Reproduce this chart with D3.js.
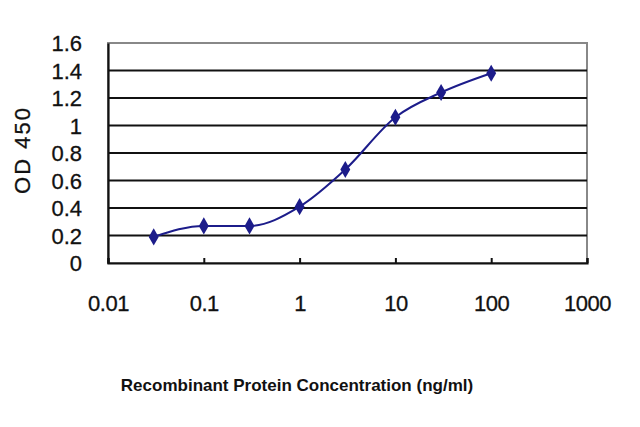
<!DOCTYPE html>
<html>
<head>
<meta charset="utf-8">
<script src="https://cdn.jsdelivr.net/npm/d3@7"></script>
<style>
	body { margin: 0; background: #fff; }
	text { font-family: "Liberation Sans", Arial, sans-serif; fill: #111; }
</style>
</head>
<body>
<svg></svg>
<script>
const concentrations = [0.03, 0.1, 0.3, 1, 3, 10, 30, 100];
const od450 = [0.19, 0.27, 0.27, 0.41, 0.68, 1.06, 1.24, 1.38];
const xTicks = [0.01, 0.1, 1, 10, 100, 1000];
const yTicks = [0, 0.2, 0.4, 0.6, 0.8, 1, 1.2, 1.4, 1.6];

const width = 640;
const height = 427;
const margin = {top: 43, right: 53, bottom: 164, left: 108};

const svg = d3.select('svg')
	.attr('width', width)
	.attr('height', height);

const x = d3.scaleLog()
	.domain([0.01, 1000])
	.range([margin.left, width - margin.right]);

const y = d3.scaleLinear()
	.domain([0, 1.6])
	.range([height - margin.bottom, margin.top]);

// frame: grey top and right
svg.append('rect')
	.attr('x', x(0.01))
	.attr('y', y(1.6))
	.attr('width', x(1000) - x(0.01))
	.attr('height', y(0) - y(1.6))
	.attr('fill', 'none')
	.attr('stroke', '#888')
	.attr('stroke-width', 2);

// gridlines
svg.append('g')
	.selectAll('line')
	.data(yTicks.filter(d => d > 0 && d < 1.6))
	.enter().append('line')
		.attr('x1', x(0.01))
		.attr('x2', x(1000))
		.attr('y1', d => y(d))
		.attr('y2', d => y(d))
		.attr('stroke', '#111')
		.attr('stroke-width', 2.2);

// y axis
const yAxis = svg.append('g')
	.attr('transform', `translate(${x(0.01)},0)`)
	.call(d3.axisLeft(y).tickValues(yTicks).tickSize(0).tickPadding(26)
		.tickFormat(d => String(+d.toFixed(1))));
yAxis.select('.domain').attr('stroke', '#111').attr('stroke-width', 2.2);
yAxis.selectAll('text')
	.attr('font-size', 22)
	.attr('fill', '#111')
	.attr('stroke', '#111')
	.attr('stroke-width', 0.3)
	.attr('dy', '0.35em');

// x axis
const xAxis = svg.append('g')
	.attr('transform', `translate(0,${y(0)})`)
	.call(d3.axisBottom(x).tickValues(xTicks).tickSize(-5).tickPadding(32)
		.tickFormat(d => String(d)));
xAxis.select('.domain').attr('stroke', '#111').attr('stroke-width', 2.2);
xAxis.selectAll('line').attr('stroke', '#111').attr('stroke-width', 2);
xAxis.selectAll('text')
	.attr('font-size', 22)
	.attr('fill', '#111')
	.attr('stroke', '#111')
	.attr('stroke-width', 0.3)
	.attr('letter-spacing', -0.5);

// series line
const points = concentrations.map((c, i) => ({c: c, v: od450[i]}));
const line = d3.line()
	.x(d => x(d.c))
	.y(d => y(d.v))
	.curve(d3.curveMonotoneX);

svg.append('path')
	.datum(points)
	.attr('d', line)
	.attr('fill', 'none')
	.attr('stroke', '#1c1c8a')
	.attr('stroke-width', 2);

svg.append('g')
	.selectAll('path')
	.data(points)
	.enter().append('path')
		.attr('d', d3.symbol().type(d3.symbolDiamond).size(85))
		.attr('transform', d => `translate(${x(d.c)},${y(d.v)})`)
		.attr('fill', '#1c1c8a');

// titles
svg.append('text')
	.attr('transform', `translate(30,${(y(0) + y(1.6)) / 2 - 3}) rotate(-90)`)
	.attr('text-anchor', 'middle')
	.attr('font-size', 22)
	.attr('letter-spacing', 2)
	.attr('stroke', '#111')
	.attr('stroke-width', 0.3)
	.text('OD 450');

svg.append('text')
	.attr('x', 297)
	.attr('y', 391)
	.attr('text-anchor', 'middle')
	.attr('font-size', 17)
	.attr('font-weight', 'bold')
	.text('Recombinant Protein Concentration (ng/ml)');
</script>
</body>
</html>
